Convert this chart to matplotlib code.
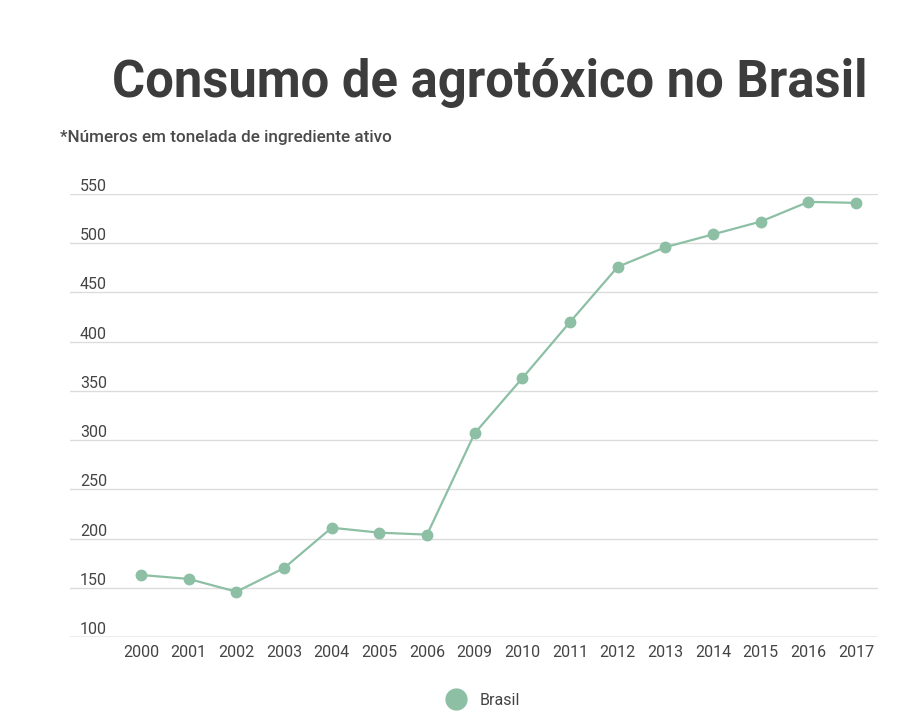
# consumo de agrotoxico no brasil - line chart

import numpy as np
import matplotlib.pyplot as plt

plt.rcParams['font.family'] = ['Roboto', 'DejaVu Sans']

# data
anos = ['2000', '2001', '2002', '2003', '2004', '2005', '2006', '2009',
        '2010', '2011', '2012', '2013', '2014', '2015', '2016', '2017']
consumo = [163, 159, 146, 170, 211, 206, 204, 307,
           363, 420, 476, 496, 509, 522, 542, 541]
y_ticks = [100, 150, 200, 250, 300, 350, 400, 450, 500, 550]

verde = '#8dbfa5'
texto = '#444444'

fig = plt.figure(figsize=(9.02, 7.18), dpi=100)
ax = fig.add_axes([0.0776, 0.1128, 0.8958, 0.617])

x = np.arange(len(anos))
ax.plot(x, consumo, color=verde, linewidth=1.6, marker='o', markersize=7.5,
        label='Brasil', clip_on=False, zorder=3)

ax.set_xlim(-1.49, 15.46)
ax.set_ylim(100, 550)
ax.set_xticks(x)
ax.set_xticklabels(anos, fontsize=11.5, color=texto)
ax.tick_params(axis='x', length=0, pad=6)

# y labels sit above the gridlines, inside the plot
ax.set_yticks(y_ticks)
ax.tick_params(axis='y', length=0, labelleft=False)
for v in y_ticks:
    ax.text(0.0124, v, str(v), transform=ax.get_yaxis_transform(),
            ha='left', va='bottom', fontsize=11.5, color=texto)

ax.grid(axis='y', color='#dcdcdc', linewidth=1)
ax.set_axisbelow(True)
for s in ax.spines.values():
    s.set_visible(False)
ax.axhline(100, color='#bdbdbd', linewidth=1, zorder=1)

fig.text(0.543, 0.884, 'Consumo de agrotóxico no Brasil', ha='center', va='center',
         fontsize=36.5, fontweight='bold', color='#3c3c3c')
fig.text(0.0665, 0.809, '*Números em tonelada de ingrediente ativo', ha='left', va='center',
         fontsize=12.3, fontweight='medium', color='#4a4a4a')

leg = fig.legend(loc='center', bbox_to_anchor=(0.535, 0.025), frameon=False, fontsize=11.5,
                 handlelength=1.4, markerscale=2.0, labelcolor=texto)
for h in leg.legend_handles:
    h.set_linestyle('none')

fig.savefig('out.png', dpi=100)
